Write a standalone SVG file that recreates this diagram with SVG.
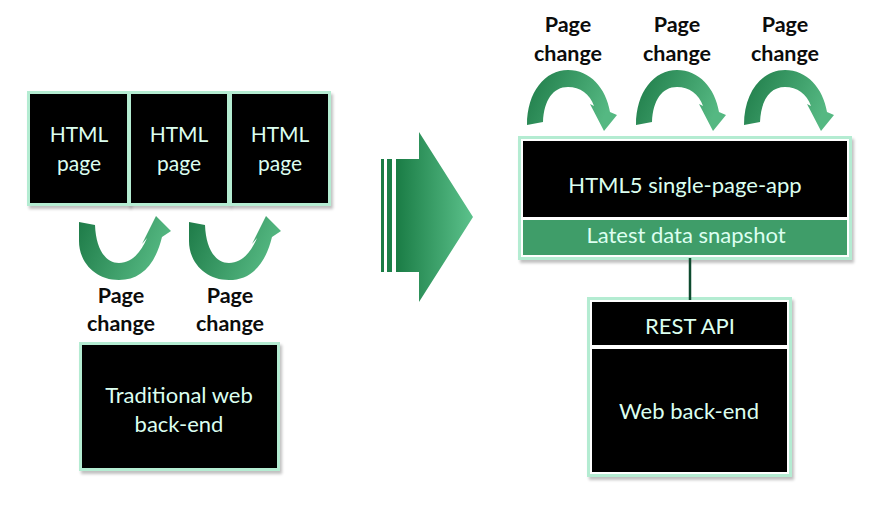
<svg xmlns="http://www.w3.org/2000/svg" width="880" height="506" viewBox="0 0 880 506">
<defs>
<linearGradient id="gArrow" x1="0" y1="0" x2="1" y2="0">
<stop offset="0" stop-color="#1a7c45"/>
<stop offset="1" stop-color="#5cc28c"/>
</linearGradient>
<linearGradient id="gCurve" x1="0" y1="0" x2="1" y2="0.3">
<stop offset="0" stop-color="#1d7a47"/>
<stop offset="1" stop-color="#55b882"/>
</linearGradient>
<filter id="sh" x="-10%" y="-10%" width="125%" height="125%">
<feGaussianBlur in="SourceAlpha" stdDeviation="1.5"/>
<feOffset dx="2" dy="3" result="b"/>
<feComponentTransfer><feFuncA type="linear" slope="0.25"/></feComponentTransfer>
<feMerge><feMergeNode/><feMergeNode in="SourceGraphic"/></feMerge>
</filter>
<path id="uArrow" d="M79,222 L95,225 C96,250 106,263 119,263 C132,263 141,252 147,238 L142,244 L156,216 L171,231 L162,237 C155,266 140,280 119,280 C95,280 79,262 79,241 Z"/>
<path id="nArrow" d="M527,125 C527,92 545,70 568,70 C590,70 606,88 610,112 L617,115 L604,131 L590,104 L594,106 C590,94 580,87 568,87 C553,87 544,100 543,122 Z"/>
</defs>
<style>
.frame{fill:#ffffff;stroke:#b4ecd2;stroke-width:3;filter:url(#sh)}
.blk{fill:#000000}
.band{fill:#3f9d69}
.wt{fill:#dcfff0;font-family:Lato,"Open Sans",sans-serif;font-size:22px;text-anchor:middle}
.sm{font-size:21px}
.lbl{fill:#0c0c0c;font-family:Lato,"Open Sans",sans-serif;font-weight:bold;font-size:21.5px;text-anchor:middle}
.crv{fill:url(#gCurve)}
.conn{stroke:#0d4a2e;stroke-width:2.5;fill:none}
</style>
<rect width="880" height="506" fill="#ffffff"/>

<g id="html-page-1">
<rect class="frame" x="28.5" y="92.5" width="100" height="112"/>
<rect class="blk" x="30" y="94" width="97" height="109"/>
<text class="wt sm" x="79" y="142">HTML</text>
<text class="wt sm" x="79" y="171">page</text>
</g>
<g id="html-page-2">
<rect class="frame" x="129.5" y="92.5" width="99" height="112"/>
<rect class="blk" x="131" y="94" width="96" height="109"/>
<text class="wt sm" x="179" y="142">HTML</text>
<text class="wt sm" x="179" y="171">page</text>
</g>
<g id="html-page-3">
<rect class="frame" x="230.5" y="92.5" width="99" height="112"/>
<rect class="blk" x="232" y="94" width="96" height="109"/>
<text class="wt sm" x="280" y="142">HTML</text>
<text class="wt sm" x="280" y="171">page</text>
</g>

<g id="traditional-backend">
<rect class="frame" x="80.5" y="343.5" width="198" height="126"/>
<rect class="blk" x="82" y="345" width="195" height="123"/>
<text class="wt" x="179" y="403">Traditional web</text>
<text class="wt" x="179" y="432">back-end</text>
</g>

<g id="spa">
<rect class="frame" x="519.5" y="137.5" width="331" height="121"/>
<rect class="blk" x="523" y="141" width="324" height="76"/>
<rect class="band" x="523" y="220" width="324" height="35"/>
<text class="wt" x="685" y="193">HTML5 single-page-app</text>
<text class="wt" x="686" y="243">Latest data snapshot</text>
</g>

<g id="rest-backend">
<rect class="frame" x="588.5" y="298.5" width="202" height="177"/>
<rect class="blk" x="592" y="302" width="195" height="43"/>
<rect class="blk" x="592" y="349" width="195" height="123"/>
<text class="wt" x="690" y="334">REST API</text>
<text class="wt" x="689" y="419">Web back-end</text>
</g>

<g id="transition-arrow">
<rect x="381" y="159" width="3" height="113" fill="#1a7c45"/>
<rect x="387" y="159" width="5" height="113" fill="#1c7f48"/>
<path d="M396,159 L419,159 L419,132 L473,217 L419,302 L419,272 L396,272 Z" fill="url(#gArrow)"/>
</g>

<g id="connectors">
<line class="conn" x1="690" y1="258" x2="690" y2="300"/>
<use href="#uArrow" class="crv"/>
<use href="#uArrow" class="crv" transform="translate(110,0)"/>
<use href="#nArrow" class="crv"/>
<use href="#nArrow" class="crv" transform="translate(109,0)"/>
<use href="#nArrow" class="crv" transform="translate(217,0)"/>
</g>

<g id="labels">
<text class="lbl" x="121" y="303">Page</text>
<text class="lbl" x="121" y="331">change</text>
<text class="lbl" x="230" y="303">Page</text>
<text class="lbl" x="230" y="331">change</text>
<text class="lbl" x="568" y="32">Page</text>
<text class="lbl" x="568" y="61">change</text>
<text class="lbl" x="677" y="32">Page</text>
<text class="lbl" x="677" y="61">change</text>
<text class="lbl" x="785" y="32">Page</text>
<text class="lbl" x="785" y="61">change</text>
</g>
</svg>
